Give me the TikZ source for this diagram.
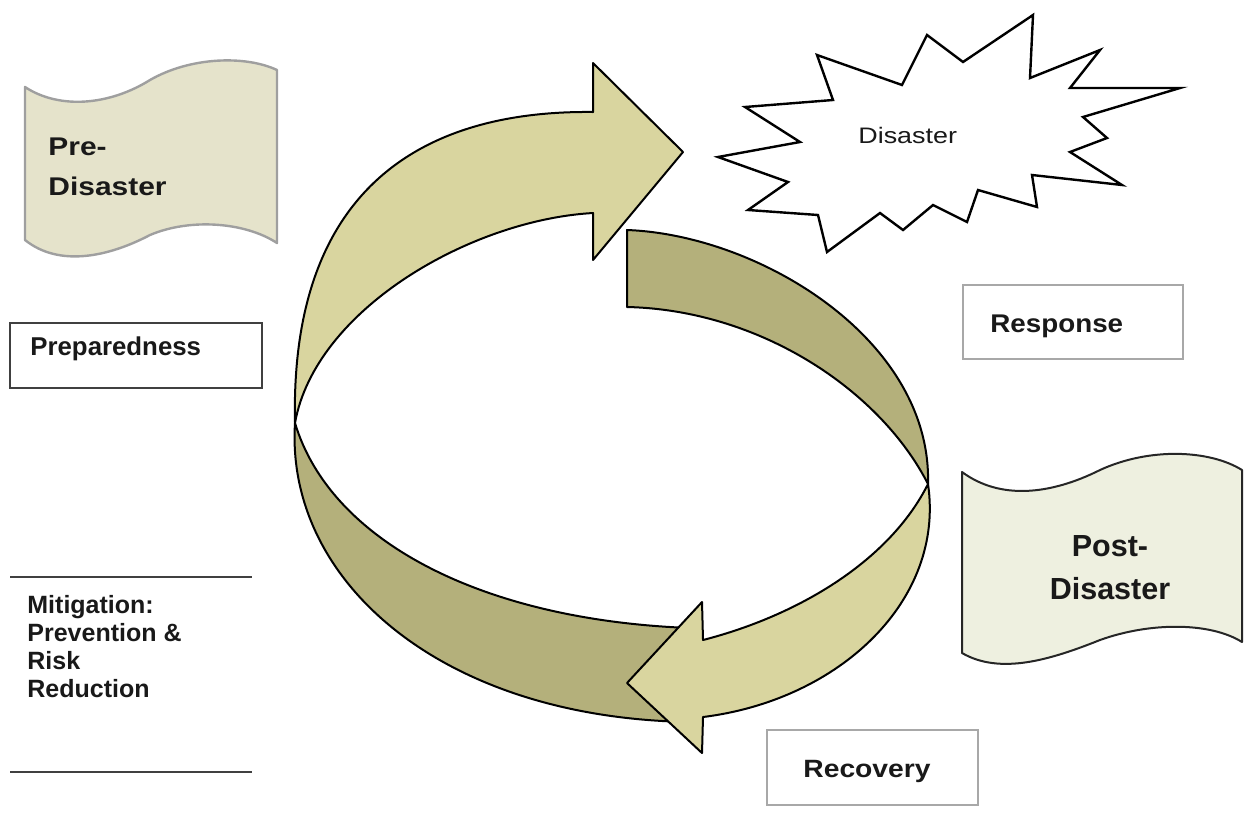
\documentclass[tikz,border=0pt]{standalone}
\usepackage{fontspec}
\setmainfont{Liberation Sans}
\usepackage{graphicx}
\definecolor{ringlight}{HTML}{D9D59F}
\definecolor{ringdark}{HTML}{B4B07B}
\definecolor{tapeA}{HTML}{E5E3CB}
\definecolor{tapeB}{HTML}{EEF0E0}
\definecolor{boxgray}{HTML}{A8A8A8}
\definecolor{linegray}{HTML}{404040}
\begin{document}
\begin{tikzpicture}[x=0.5pt,y=-0.5pt,
  ring/.style={draw=black,line width=1pt,line join=round},
  tapeA/.style={draw=gray!75,fill=tapeA,line width=1.2pt,line join=round},
  tapeB/.style={draw=black!85,fill=tapeB,line width=1pt,line join=round},
  burst/.style={draw=black,fill=white,line width=1.2pt,line join=miter},
  graybox/.style={draw=boxgray,line width=0.8pt},
  darkbox/.style={draw=linegray,line width=0.7pt},
  lbl/.style={inner sep=0pt,text=black!90}]
\useasboundingbox (0,0) rectangle (1245,814);

% Pre-Disaster tape
\draw[tapeA] (25,87) .. controls (60,110) and (110,105) .. (150,80)
  .. controls (190,57) and (245,55) .. (277,70) -- (277,243)
  .. controls (245,222) and (190,218) .. (150,235)
  .. controls (110,256) and (60,268) .. (25,240) -- cycle;
\node[lbl, anchor=north west, align=left, font=\fontsize{12.8}{20}\selectfont\bfseries] (pre) at (48,137)
  {\scalebox{1.17}[1]{Pre-}\\\scalebox{1.17}[1]{Disaster}};

% Post-Disaster tape
\draw[tapeB] (962,472) .. controls (1000,500) and (1050,495) .. (1100,470)
  .. controls (1150,447) and (1210,450) .. (1242,470) -- (1242,642)
  .. controls (1210,622) and (1150,622) .. (1100,640)
  .. controls (1050,660) and (1000,675) .. (962,653) -- cycle;
\node[lbl, anchor=north, align=center, font=\fontsize{15.25}{21.5}\selectfont\bfseries] (post) at (1110,535)
  {Post-\\Disaster};

% Preparedness box
\draw[darkbox] (10,323) rectangle (262,388);
\node[lbl, anchor=base west, font=\fontsize{12.9}{15}\selectfont\bfseries] (prep) at (30,355) {Preparedness};

% Mitigation
\draw[darkbox] (10,577) -- (252,577);
\draw[darkbox] (10,772) -- (252,772);
\node[lbl, anchor=north west, align=left, font=\fontsize{12.5}{14}\selectfont\bfseries] (mit) at (27,595)
  {Mitigation:\\Prevention \&\\Risk\\Reduction};

% Response box
\draw[graybox] (963,285) rectangle (1183,359);
\node[lbl, anchor=base west, font=\fontsize{12.8}{15}\selectfont\bfseries] (resp) at (990,332)
  {\scalebox{1.085}[1]{Response}};

% Recovery box
\draw[graybox] (767,730) rectangle (978,805);
\node[lbl, anchor=base west, font=\fontsize{12.5}{15}\selectfont\bfseries] (rec) at (803,777)
  {\scalebox{1.13}[1]{Recovery}};

% Disaster starburst
\draw[burst] (718,157) -- (800,142) -- (745,107) -- (833,100) -- (817,55) -- (902,85)
  -- (927,35) -- (963,62) -- (1033,15) -- (1030,78) -- (1100,50) -- (1070,88)
  -- (1180,88) -- (1083,117) -- (1107,138) -- (1070,152) -- (1122,185) -- (1032,175)
  -- (1037,207) -- (978,190) -- (967,222) -- (933,205) -- (903,230) -- (880,213)
  -- (827,252) -- (818,215) -- (748,210) -- (788,182) -- cycle;
\node[lbl, anchor=base west, font=\fontsize{11.2}{13}\selectfont] (dis) at (858,143)
  {\scalebox{1.2}[1]{Disaster}};

% Cycle ring
% dark lower-left band
\draw[ring, fill=ringdark] (295,423) .. controls (285,580) and (440,718) .. (690,722)
  -- (690,628) .. controls (480,620) and (330,540) .. (295,423) -- cycle;
% dark upper-right band (tail)
\draw[ring, fill=ringdark] (627,230) .. controls (760,235) and (932,340) .. (928,484)
  .. controls (880,390) and (760,310) .. (627,307) -- cycle;
% light lower-right arrow
\draw[ring, fill=ringlight] (928,484) .. controls (945,600) and (840,700) .. (703,717)
  -- (702,753) -- (627,683) -- (702,602) -- (703,640)
  .. controls (800,615) and (890,560) .. (928,484) -- cycle;
% light upper-left arrow
\draw[ring, fill=ringlight] (295,423) .. controls (290,200) and (410,110) .. (593,112)
  -- (593,63) -- (683,152) -- (593,260) -- (593,213)
  .. controls (470,220) and (315,310) .. (295,423) -- cycle;
\end{tikzpicture}
\end{document}
